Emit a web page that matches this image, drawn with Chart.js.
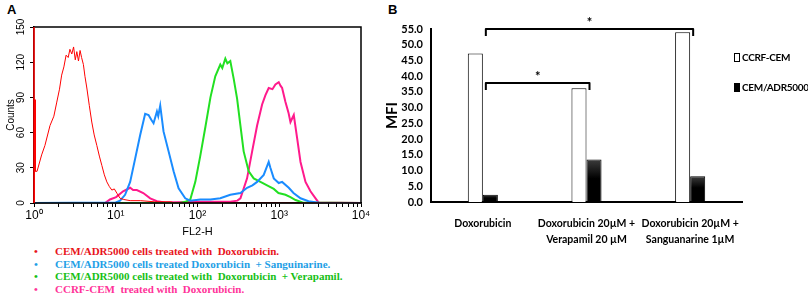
<!DOCTYPE html>
<html>
<head>
<meta charset="utf-8">
<script src="https://cdn.jsdelivr.net/npm/chart.js@4.4.0/dist/chart.umd.min.js"></script>
<style>
  body { margin: 0; background: #fff; width: 808px; height: 296px; overflow: hidden; position: relative; font-family: "Liberation Sans", Arial, sans-serif; }
  #wrapA { position: absolute; left: 0; top: 0; width: 372px; height: 245px; }
  #wrapB { position: absolute; left: 380px; top: 0; width: 428px; height: 260px; }
  .letter { position: absolute; font-weight: bold; font-size: 13px; color: #000; }
  #legendA { position: absolute; left: 34px; top: 245px; font-family: "Liberation Serif", serif; font-weight: bold; font-size: 11px; line-height: 12.5px; white-space: pre; }
  #legendA .dot { display: inline-block; width: 21px; }
  #legendB { position: absolute; left: 734px; top: 51px; font-family: Lato, sans-serif; font-weight: bold; font-size: 10px; letter-spacing: -0.3px; color: #000; }
  #legendB div { height: 30px; white-space: nowrap; }
  #legendB .box { display: inline-block; width: 4px; height: 7px; border: 1px solid #000; margin-right: 2px; vertical-align: -1px; }
</style>
</head>
<body>
<div class="letter" style="left:7px; top:2px;">A</div>
<div class="letter" style="left:388px; top:2px;">B</div>
<div id="wrapA"><canvas id="histChart"></canvas></div>
<div id="legendA"></div>
<div id="wrapB"><canvas id="mfiChart"></canvas></div>
<div id="legendB"></div>

<script>
// ---- panel A : flow cytometry histograms (FL2-H vs counts)
const seriesNamesA = [
  "CEM/ADR5000 cells treated with  Doxorubicin.",
  "CEM/ADR5000 cells treated Doxorubicin  + Sanguinarine.",
  "CEM/ADR5000 cells treated with  Doxorubicin  + Verapamil.",
  "CCRF-CEM  treated with  Doxorubicin."
];
const lineColors = ["#ff0000", "#1a8cff", "#22e022", "#ff1a8c"];
const textColors = ["#e8141c", "#1ea0e6", "#16c016", "#ff3399"];

const redFl2 = [1, 1.01, 1.03, 1.04, 1.09, 1.24, 1.36, 1.57, 1.75, 1.9, 2.05, 2.18, 2.32, 2.47, 2.62, 2.75, 2.9, 3.05, 3.2, 3.34, 3.5, 3.66, 3.82, 4.02, 4.2, 4.43, 4.75, 5.09, 5.45, 5.87, 6.3, 6.76, 7.25, 7.78, 8.35, 8.96, 9.6, 10.4, 11.3, 12.5, 15, 20, 30, 47, 53, 10000];
const redCounts = [0, 88, 88, 27, 27, 41, 49, 66, 74, 86, 97, 109, 116, 126, 124, 131, 127, 133, 122, 129, 121, 130, 124, 118, 108, 98, 83, 69, 58, 49, 40, 32, 24, 18, 14, 11, 12, 8, 4, 3, 2, 2, 1, 1, 0, 0];

const blueFl2 = [1, 10, 11.3, 13, 15, 17.3, 19.9, 22.9, 25.2, 27.2, 29, 31.9, 33.1, 35, 38.4, 44.3, 51, 58.7, 70.8, 81.6, 108, 144, 190, 252, 335, 404, 470, 536, 646, 743, 779, 857, 986, 1084, 1307, 1493, 1820, 2280, 3180, 10000];
const blueCounts = [0, 0.5, 2, 7, 18, 38, 58, 76, 75, 71, 68, 78, 74, 83, 61, 44, 27, 12.5, 4, 2, 3, 3, 4, 7, 8.5, 13, 15, 18, 24, 35, 30, 21, 17, 18, 13, 8.5, 4, 1.5, 0, 0];

const greenFl2 = [1, 61, 71, 81.6, 94, 108, 125, 144, 165, 190, 201, 219, 232, 252, 277, 305, 335, 367, 423, 487, 589, 710, 857, 978, 1191, 1371, 1585, 1923, 10000];
const greenCounts = [0, 0, 1, 3, 18, 40, 65, 90, 108, 118, 115, 123, 119, 121, 106, 89, 66, 44, 27, 21, 18, 15, 12, 8.5, 7, 5, 2.5, 0.5, 0];

const pinkFl2 = [1, 7.4, 8.5, 10.1, 12.3, 15, 16.3, 18.1, 21.7, 26.4, 31.9, 40, 108, 252, 307, 335, 404, 466, 536, 617, 678, 743, 826, 898, 986, 1035, 1084, 1191, 1297, 1371, 1506, 1656, 1820, 2095, 2410, 2780, 3020, 10000];
const pinkCounts = [0, 0, 3, 5, 10, 13, 11, 11, 8.5, 4, 1.5, 0.5, 1, 1, 2, 4, 21, 44, 66, 84, 92, 98, 97, 101, 103, 100, 98, 86, 77, 69, 75, 55, 35, 18, 10, 4, 0.5, 0];

const decadeTicks = [1, 10, 100, 1000, 10000];
const decadeLabels = ["10⁰", "10¹", "10²", "10³", "10⁴"];

// ---- panel B : MFI bars
const groupLabels = [["Doxorubicin"], ["Doxorubicin 20µM +", "Verapamil 20 µM"], ["Doxorubicin 20µM +", "Sanguanarine 1µM"]];
const seriesNamesB = ["CCRF-CEM", "CEM/ADR5000"];
const ccrfValues = [47.2, 36.2, 54.0];
const adrValues = [2.3, 13.5, 8.2];
const sigFrom = [0, 0];
const sigTo = [2, 1];
const sigLevel = [55.0, 37.8];
const sigMarks = ["*", "*"];

function pairs(xs, ys) {
  return xs.map((v, i) => ({ x: v, y: ys[i] }));
}

// legend A as text lines
document.getElementById("legendA").innerHTML = seriesNamesA.map((name, i) =>
  `<div style="color:${textColors[i]}"><span class="dot">•</span>${name}</div>`
).join("");

// legend B
const boxFills = ["#fff", "#000"];
document.getElementById("legendB").innerHTML = seriesNamesB.map((name, i) =>
  `<div><span class="box" style="background:${boxFills[i]}"></span>${name}</div>`
).join("");

const frameA = {
  id: "frameA",
  afterDatasetsDraw(chart) {
    const { ctx, chartArea: a } = chart;
    ctx.save();
    ctx.lineWidth = 1.5;
    ctx.strokeStyle = "#000";
    ctx.beginPath();
    ctx.moveTo(a.left, a.top);
    ctx.lineTo(a.right, a.top);
    ctx.lineTo(a.right, a.bottom);
    ctx.lineTo(a.left, a.bottom);
    ctx.stroke();
    ctx.strokeStyle = "#ff0000";
    ctx.beginPath();
    ctx.moveTo(a.left, a.top);
    ctx.lineTo(a.left, a.bottom);
    ctx.stroke();
    ctx.restore();
  }
};

new Chart(document.getElementById("histChart"), {
  type: "line",
  data: {
    datasets: [
      { label: seriesNamesA[0], data: pairs(redFl2, redCounts), borderColor: lineColors[0], borderWidth: 1 },
      { label: seriesNamesA[1], data: pairs(blueFl2, blueCounts), borderColor: lineColors[1], borderWidth: 2 },
      { label: seriesNamesA[2], data: pairs(greenFl2, greenCounts), borderColor: lineColors[2], borderWidth: 2 },
      { label: seriesNamesA[3], data: pairs(pinkFl2, pinkCounts), borderColor: lineColors[3], borderWidth: 2 }
    ]
  },
  options: {
    responsive: true,
    maintainAspectRatio: false,
    animation: false,
    elements: { point: { radius: 0 }, line: { tension: 0, fill: false } },
    layout: { padding: { top: 27, right: 11, left: 0, bottom: 0 } },
    plugins: { legend: { display: false }, tooltip: { enabled: false } },
    scales: {
      x: {
        type: "logarithmic",
        min: 1,
        max: 10000,
        afterBuildTicks: (s) => {
          s.ticks = s.ticks.filter((t) => {
            const m = t.value / Math.pow(10, Math.floor(Math.log10(t.value) + 1e-9));
            return Math.abs(m - Math.round(m)) < 1e-6;
          });
        },
        afterFit: (s) => { s.height = 42; },
        border: { color: "#000", width: 1.5 },
        grid: { drawOnChartArea: false, tickLength: 4, color: "#000" },
        ticks: {
          autoSkip: false,
          maxRotation: 0,
          padding: 1,
          color: "#000",
          font: { family: "Liberation Sans", size: 12 },
          callback: (v) => {
            const i = decadeTicks.indexOf(v);
            return i >= 0 ? decadeLabels[i] : "";
          }
        },
        title: { display: true, text: "FL2-H", color: "#000", font: { family: "Liberation Sans", size: 11 }, padding: { top: 0, bottom: 6 } }
      },
      y: {
        min: 0,
        max: 150,
        afterFit: (s) => { s.width = 34; },
        border: { color: "#000", width: 1.5 },
        grid: { drawOnChartArea: false, tickLength: 4, color: "#000" },
        ticks: {
          stepSize: 30,
          minRotation: 90,
          maxRotation: 90,
          crossAlign: "center",
          padding: 0,
          color: "#000",
          font: { family: "Liberation Sans", size: 10 }
        },
        title: { display: true, text: "Counts", color: "#000", font: { family: "Liberation Sans", size: 10 }, padding: { top: 5, bottom: 0 } }
      }
    }
  },
  plugins: [frameA]
});

const bracketsB = {
  id: "bracketsB",
  afterDatasetsDraw(chart) {
    const { ctx, scales: { x, y } } = chart;
    ctx.save();
    ctx.strokeStyle = "#000";
    ctx.lineWidth = 2;
    ctx.lineJoin = "round";
    ctx.fillStyle = "#000";
    ctx.font = "bold 13px Lato";
    ctx.textAlign = "center";
    ctx.textBaseline = "middle";
    sigFrom.forEach((from, i) => {
      const x1 = x.getPixelForValue(from) + 3;
      const x2 = x.getPixelForValue(sigTo[i]) + 3;
      const yTop = y.getPixelForValue(sigLevel[i]);
      ctx.beginPath();
      ctx.moveTo(x1, yTop + 7);
      ctx.lineTo(x1, yTop);
      ctx.lineTo(x2, yTop);
      ctx.lineTo(x2, yTop + 7);
      ctx.stroke();
      ctx.fillText(sigMarks[i], (x1 + x2) / 2, yTop - 6);
    });
    ctx.restore();
  }
};

function darkFill(context) {
  const chart = context.chart;
  const area = chart.chartArea;
  if (!area || context.raw == null) return "#000";
  const top = chart.scales.y.getPixelForValue(context.raw);
  const g = chart.ctx.createLinearGradient(0, top, 0, area.bottom);
  g.addColorStop(0, "#3c3c3c");
  g.addColorStop(0.45, "#000");
  g.addColorStop(1, "#000");
  return g;
}

new Chart(document.getElementById("mfiChart"), {
  type: "bar",
  data: {
    labels: groupLabels,
    datasets: [
      { label: seriesNamesB[0], data: ccrfValues, backgroundColor: "#fff", borderColor: "#000", borderWidth: 1 },
      { label: seriesNamesB[1], data: adrValues, backgroundColor: darkFill, borderColor: "#000", borderWidth: 1 }
    ]
  },
  options: {
    responsive: true,
    maintainAspectRatio: false,
    animation: false,
    layout: { padding: { top: 29, right: 66, left: 0, bottom: 0 } },
    plugins: { legend: { display: false }, tooltip: { enabled: false } },
    datasets: { bar: { categoryPercentage: 0.29, barPercentage: 1 } },
    scales: {
      x: {
        afterFit: (s) => { s.height = 58; },
        border: { color: "#000", width: 2 },
        grid: { display: false, drawTicks: false },
        ticks: {
          autoSkip: false,
          minRotation: 0,
          maxRotation: 0,
          padding: 14,
          color: "#000",
          font: { family: "Lato", size: 10.5, weight: "bold", lineHeight: 1.5 }
        }
      },
      y: {
        min: 0,
        max: 55,
        afterFit: (s) => { s.width = 51; },
        border: { color: "#000", width: 2 },
        grid: { display: false, drawTicks: false },
        ticks: {
          autoSkip: false,
          stepSize: 5,
          padding: 8,
          color: "#000",
          font: { family: "Lato", size: 11, weight: "bold" },
          callback: (v) => v.toFixed(1)
        },
        title: { display: true, text: "MFI", color: "#000", font: { family: "Lato", size: 15, weight: "bold" }, padding: { top: 3, bottom: 0 } }
      }
    }
  },
  plugins: [bracketsB]
});
</script>
</body>
</html>
